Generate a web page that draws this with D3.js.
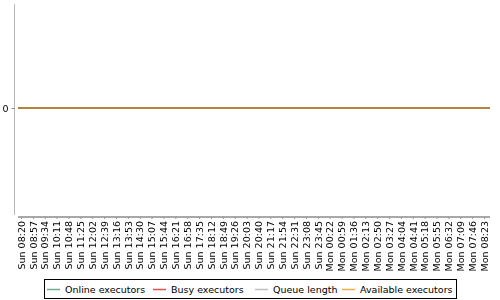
<!DOCTYPE html>
<html><head><meta charset="utf-8">
<script src="https://cdn.jsdelivr.net/npm/d3@7"></script>
<style>body{margin:0;background:#fff}svg{display:block}text{font-family:"DejaVu Sans",sans-serif;font-size:9.5px;fill:#000}</style>
</head><body><svg id="c" width="500" height="300"></svg>
<script>
const categories = ["Sun 08:20","Sun 08:57","Sun 09:34","Sun 10:11","Sun 10:48","Sun 11:25","Sun 12:02","Sun 12:39","Sun 13:16","Sun 13:53","Sun 14:30","Sun 15:07","Sun 15:44","Sun 16:21","Sun 16:58","Sun 17:35","Sun 18:12","Sun 18:49","Sun 19:26","Sun 20:03","Sun 20:40","Sun 21:17","Sun 21:54","Sun 22:31","Sun 23:08","Sun 23:45","Mon 00:22","Mon 00:59","Mon 01:36","Mon 02:13","Mon 02:50","Mon 03:27","Mon 04:04","Mon 04:41","Mon 05:18","Mon 05:55","Mon 06:32","Mon 07:09","Mon 07:46","Mon 08:23"];
const seriesNames = ["Online executors","Busy executors","Queue length","Available executors"];
const seriesColors = ["#6fb08a","#d9534f","#c0c0c0","#f0ad4e"];
const onlineExecutors = [0,0,0,0,0,0,0,0,0,0,0,0,0,0,0,0,0,0,0,0,0,0,0,0,0,0,0,0,0,0,0,0,0,0,0,0,0,0,0,0];
const busyExecutors = [0,0,0,0,0,0,0,0,0,0,0,0,0,0,0,0,0,0,0,0,0,0,0,0,0,0,0,0,0,0,0,0,0,0,0,0,0,0,0,0];
const queueLength = [0,0,0,0,0,0,0,0,0,0,0,0,0,0,0,0,0,0,0,0,0,0,0,0,0,0,0,0,0,0,0,0,0,0,0,0,0,0,0,0];
const availableExecutors = [0,0,0,0,0,0,0,0,0,0,0,0,0,0,0,0,0,0,0,0,0,0,0,0,0,0,0,0,0,0,0,0,0,0,0,0,0,0,0,0];
const seriesValues = [onlineExecutors, busyExecutors, queueLength, availableExecutors];
const yTicks = [0];

const svg = d3.select("#c");
const pL = 18, pR = 490, pT = 4, pB = 212;
const x = d3.scalePoint().domain(categories).range([21, 484]);
const y = d3.scaleLinear().domain([-1, 1]).range([pB, pT]);

// y axis
const yAx = svg.append("g").attr("transform","translate(14.5,0)")
  .call(d3.axisLeft(y).tickValues(yTicks).tickSize(3).tickPadding(3).tickFormat(d3.format("d")));
yAx.select(".domain").attr("stroke","#b8b8b8").attr("d",`M0,${pT}V${pB+3}`);
yAx.selectAll(".tick line").attr("stroke","#888");
yAx.selectAll(".tick text").attr("fill","#000");

// x axis
const xAx = svg.append("g").attr("transform","translate(0,217)")
  .call(d3.axisBottom(x).tickSize(2).tickPadding(3));
xAx.select(".domain").attr("stroke","#a8a8a8").attr("stroke-width",2).attr("d",`M${pL},0H${pR}`);
xAx.selectAll(".tick line").attr("stroke","#999");
xAx.selectAll(".tick text").attr("fill","#000")
  .attr("transform","rotate(-90)").attr("text-anchor","end").attr("dx","-4").attr("dy","0.34em").attr("x",0).attr("y",0);

// lines (extended horizontally to the plot edges, as in the reference)
const line = d3.line().x(d=>d[0]).y(d=>y(d[1]));
seriesValues.forEach((vals,k)=>{
  const pts = [[pL, vals[0]]].concat(vals.map((v,i)=>[x(categories[i]), v]), [[pR, vals[vals.length-1]]]);
  svg.append("path").datum(pts).attr("d",line).attr("fill","none")
    .attr("stroke",seriesColors[k]).attr("stroke-width",2)
    .style("mix-blend-mode", k === 3 ? "multiply" : "normal");
});

// legend
const lg = svg.append("g");
lg.append("rect").attr("x",44.5).attr("y",279.5).attr("width",412).attr("height",19).attr("fill","#fff").attr("stroke","#000");
const offsets = [47,153,255,342];
seriesNames.forEach((n,k)=>{
  const gx = offsets[k];
  lg.append("line").attr("x1",gx).attr("x2",gx+13).attr("y1",289.5).attr("y2",289.5).attr("stroke",seriesColors[k]).attr("stroke-width",1.5);
  lg.append("text").attr("x",gx+18).attr("y",293).text(n);
});
</script></body></html>
